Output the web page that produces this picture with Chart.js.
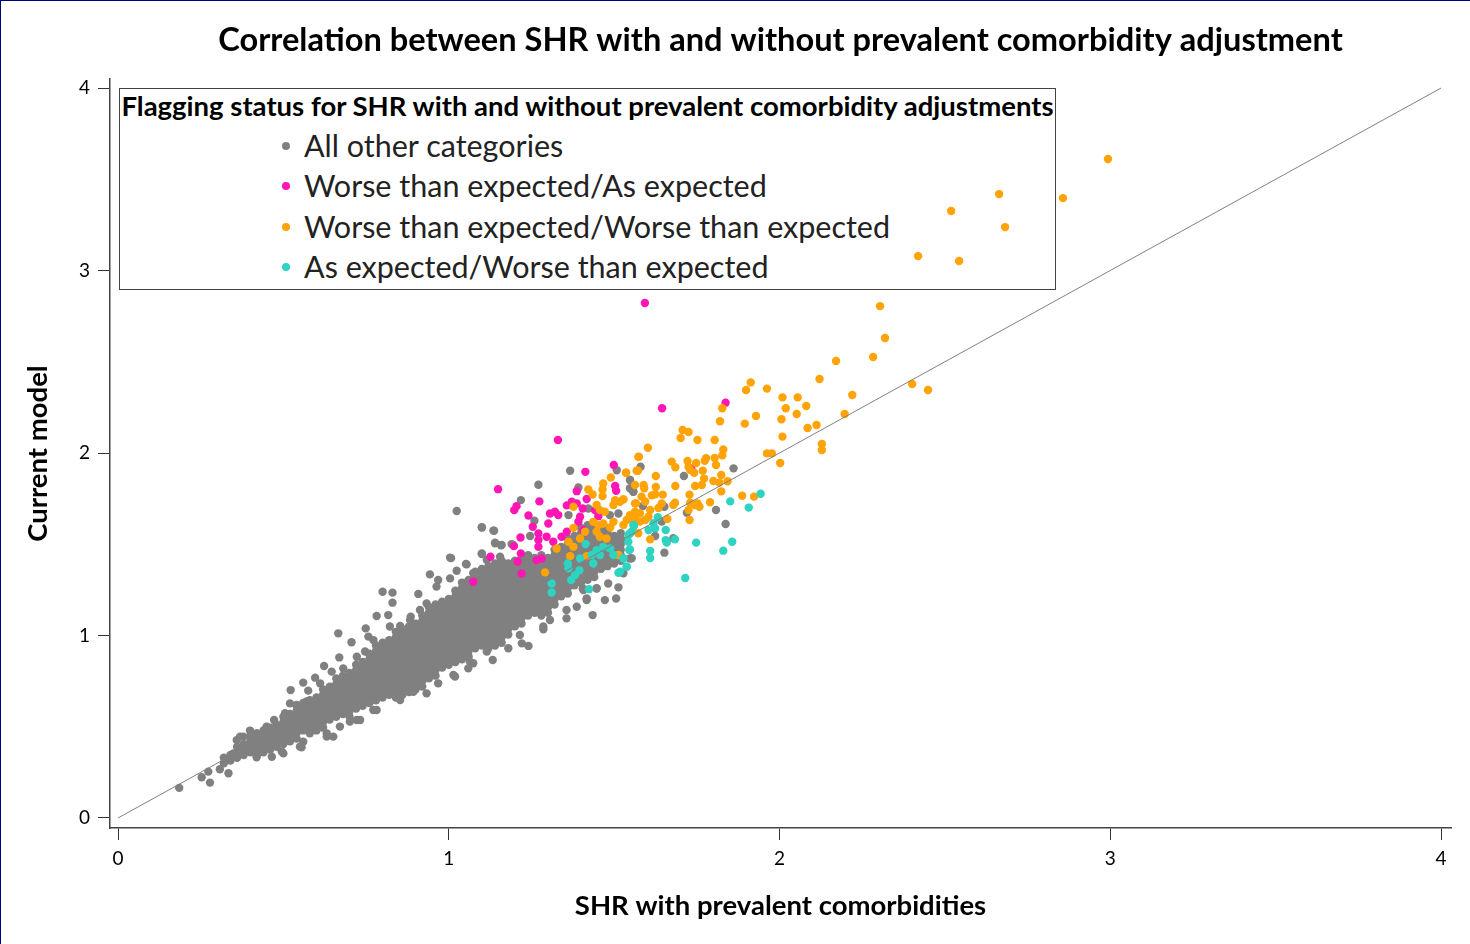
<!DOCTYPE html>
<html>
<head>
<meta charset="utf-8">
<script src="https://cdn.jsdelivr.net/npm/chart.js@4"></script>
<style>
  html, body { margin: 0; padding: 0; background: #fff; }
  #wrap { position: relative; width: 1470px; height: 944px; overflow: hidden; font-family: Lato, sans-serif; }
  #wrap canvas { position: absolute; left: 0; top: 0; }
  #edgeLeft { position: absolute; left: 0; top: 0; width: 1px; height: 944px; background: #00007f; }
  #edgeTop { position: absolute; left: 0; top: 0; width: 1470px; height: 1px; background: #00007f; }
  #legend { position: absolute; left: 119px; top: 88px; width: 935px; height: 200px; border: 1px solid #444; background: #fff; }
  #legend .head { position: absolute; left: 0; width: 100%; top: 1px; text-align: center; font-weight: 700; font-size: 27.5px; line-height: 32px; color: #000; white-space: nowrap; }
  #legend .row { position: absolute; left: 184px; height: 40px; line-height: 40px; font-size: 30.5px; color: #222; white-space: nowrap; }
  #legend .dot { position: absolute; left: -22px; top: 17px; width: 8px; height: 8px; border-radius: 50%; }
  #legend .row span.txt { position: absolute; left: 0; top: 0; }
</style>
</head>
<body>
<div id="wrap">
  <div id="legend"></div>
  <canvas id="myChart" width="1470" height="944"></canvas>
  <div id="edgeLeft"></div>
  <div id="edgeTop"></div>
</div>
<script>
const titleText = "Correlation between SHR with and without prevalent comorbidity adjustment";
const xTitle = "SHR with prevalent comorbidities";
const yTitle = "Current model";
const legendTitle = "Flagging status for SHR with and without prevalent comorbidity adjustments";
const seriesNames = ["All other categories", "Worse than expected/As expected", "Worse than expected/Worse than expected", "As expected/Worse than expected"];
const seriesColors = ["#808080", "#ff16b4", "#ffa306", "#2ed3c1"];
const tickValues = [0, 1, 2, 3, 4];
const refLine = [0, 4];

// the middle of the grey cloud is solid in the picture, single dots can't be read there,
// so these columns just follow its outline as read off the zoomed crops
const coreX = [.32,.34,.36,.38,.40,.42,.44,.46,.48,.50,.52,.54,.56,.58,.60,.62,.64,.66,.68,.70,.72,.74,.76,.78,.80,.82,.84,.86,.88,.90,.92,.94,.96,.98,1.00,1.02,1.04,1.06,1.08,1.10,1.12,1.14,1.16,1.18,1.20,1.22,1.24,1.26,1.28,1.30,1.32,1.34,1.36,1.38,1.40,1.42,1.44,1.46,1.48,1.50,1.52];
const coreY = [
  [.30,.33],
  [.315,.345],
  [.33,.36,.39],
  [.345,.375,.405],
  [.36,.39,.42,.45],
  [.345,.375,.405,.435,.465],
  [.36,.39,.42,.45,.48],
  [.375,.405,.435,.465,.495],
  [.39,.42,.45,.48,.51],
  [.405,.435,.465,.495,.525,.555],
  [.42,.45,.48,.51,.54,.57],
  [.435,.465,.495,.525,.555,.585,.615],
  [.48,.51,.54,.57,.60,.63],
  [.495,.525,.555,.585,.615,.645],
  [.48,.51,.54,.57,.60,.63,.66],
  [.495,.525,.555,.585,.615,.645,.675,.705],
  [.54,.57,.60,.63,.66,.69,.72],
  [.555,.585,.615,.645,.675,.705,.735,.765],
  [.57,.60,.63,.66,.69,.72,.75,.78],
  [.555,.585,.615,.645,.675,.705,.735,.765,.795],
  [.60,.63,.66,.69,.72,.75,.78,.81,.84],
  [.615,.645,.675,.705,.735,.765,.795,.825,.855],
  [.63,.66,.69,.72,.75,.78,.81,.84,.87,.90],
  [.645,.675,.705,.735,.765,.795,.825,.855,.885,.915,.945],
  [.66,.69,.72,.75,.78,.81,.84,.87,.90,.93,.96],
  [.675,.705,.735,.765,.795,.825,.855,.885,.915,.945,.975],
  [.66,.69,.72,.75,.78,.81,.84,.87,.90,.93,.96,.99,1.02],
  [.675,.705,.735,.765,.795,.825,.855,.885,.915,.945,.975,1.005,1.035],
  [.69,.72,.75,.78,.81,.84,.87,.90,.93,.96,.99,1.02,1.05],
  [.705,.735,.765,.795,.825,.855,.885,.915,.945,.975,1.005,1.035,1.065],
  [.72,.75,.78,.81,.84,.87,.90,.93,.96,.99,1.02,1.05,1.08,1.11],
  [.765,.795,.825,.855,.885,.915,.945,.975,1.005,1.035,1.065,1.095,1.125,1.155],
  [.78,.81,.84,.87,.90,.93,.96,.99,1.02,1.05,1.08,1.11,1.14,1.17],
  [.825,.855,.885,.915,.945,.975,1.005,1.035,1.065,1.095,1.125,1.155,1.185],
  [.84,.87,.90,.93,.96,.99,1.02,1.05,1.08,1.11,1.14,1.17,1.20],
  [.855,.885,.915,.945,.975,1.005,1.035,1.065,1.095,1.125,1.155,1.185,1.215,1.245],
  [.87,.90,.93,.96,.99,1.02,1.05,1.08,1.11,1.14,1.17,1.20,1.23,1.26,1.29],
  [.885,.915,.945,.975,1.005,1.035,1.065,1.095,1.125,1.155,1.185,1.215,1.245,1.275,1.305],
  [.93,.96,.99,1.02,1.05,1.08,1.11,1.14,1.17,1.20,1.23,1.26,1.29,1.32,1.35],
  [.945,.975,1.005,1.035,1.065,1.095,1.125,1.155,1.185,1.215,1.245,1.275,1.305,1.335,1.365],
  [.93,.96,.99,1.02,1.05,1.08,1.11,1.14,1.17,1.20,1.23,1.26,1.29,1.32,1.35,1.38],
  [.945,.975,1.005,1.035,1.065,1.095,1.125,1.155,1.185,1.215,1.245,1.275,1.305,1.335,1.365,1.395],
  [.96,.99,1.02,1.05,1.08,1.11,1.14,1.17,1.20,1.23,1.26,1.29,1.32,1.35,1.38,1.41],
  [1.005,1.035,1.065,1.095,1.125,1.155,1.185,1.215,1.245,1.275,1.305,1.335,1.365,1.395],
  [1.05,1.08,1.11,1.14,1.17,1.20,1.23,1.26,1.29,1.32,1.35,1.38,1.41],
  [1.065,1.095,1.125,1.155,1.185,1.215,1.245,1.275,1.305,1.335,1.365,1.395,1.425],
  [1.11,1.14,1.17,1.20,1.23,1.26,1.29,1.32,1.35,1.38,1.41,1.44],
  [1.125,1.155,1.185,1.215,1.245,1.275,1.305,1.335,1.365,1.395,1.425],
  [1.11,1.14,1.17,1.20,1.23,1.26,1.29,1.32,1.35,1.38,1.41,1.44],
  [1.125,1.155,1.185,1.215,1.245,1.275,1.305,1.335,1.365,1.395,1.425],
  [1.17,1.20,1.23,1.26,1.29,1.32,1.35,1.38,1.41,1.44,1.47],
  [1.215,1.245,1.275,1.305,1.335,1.365,1.395,1.425,1.455,1.485],
  [1.23,1.26,1.29,1.32,1.35,1.38,1.41,1.44,1.47,1.50,1.53],
  [1.275,1.305,1.335,1.365,1.395,1.425,1.455,1.485,1.515,1.545],
  [1.29,1.32,1.35,1.38,1.41,1.44,1.47,1.50,1.53,1.56,1.59],
  [1.305,1.335,1.365,1.395,1.425,1.455,1.485,1.515,1.545,1.575,1.605],
  [1.32,1.35,1.38,1.41,1.44,1.47,1.50,1.53,1.56,1.59],
  [1.365,1.395,1.425,1.455,1.485,1.515,1.545,1.575],
  [1.38,1.41,1.44,1.47,1.50,1.53,1.56,1.59],
  [1.395,1.425,1.455,1.485,1.515,1.545],
  [1.41,1.44,1.47,1.50,1.53,1.56]
];

// single grey dots around the outline
const grayX = [.185,.278,.253,.273,.308,.334,.349,.359,.379,.399,.419,.465,.500,.555,.472,.505,.520,.522,.560,.575,.596,.623,.669,.706,.666,.749,.757,.782,.817,.800,.830,.830,.908,.885,.943,.968,1.004,1.024,1.052,1.100,1.135,1.140,1.160,1.100,1.195,.933,1.019,.968,1.059,1.133,1.074,1.180,1.221,1.241,1.286,1.356,1.435,1.417,1.447,1.405,.782,.732,.701,.651,.631,.560,1.024,1.100,1.137,1.218,1.271,1.367,1.259,1.140,1.158,1.190,1.007,1.054,1.100,1.246,1.362,1.392,1.508,1.548,1.558,1.422,1.487,1.513,1.523,1.548,1.482,1.513,1.447,1.407,1.506,1.472,1.417,1.861,1.711,1.808,1.837,1.652,1.720,1.679,1.624,1.644,1.580,1.548,1.548,1.558,1.587,1.652,1.553,1.528,
  .449,.540,.570,.611,.646,.681,.722,.747,.772,.822,.853,.883,.913,.933,.963,1.004,1.074,1.115,1.155,.495,.550,.580,.631,.671,.722,.772,.853,.893,1.014,1.064,1.115,1.215,1.286,1.306,1.356,1.387,.369,.399];
const grayY = [.165,.194,.223,.254,.267,.245,.354,.427,.446,.479,.333,.336,.354,.387,.537,.574,.628,.701,.742,.698,.769,.833,.880,.963,1.012,1.039,.994,1.107,1.112,1.240,1.235,1.180,1.228,1.103,1.335,1.304,1.427,1.355,1.392,1.593,1.575,1.509,1.496,1.450,1.496,.683,.775,.738,.820,.866,.848,.930,.957,.943,1.034,1.094,1.112,1.195,1.259,1.259,.592,.537,.528,.446,.446,.418,1.682,1.592,1.574,1.742,1.826,1.903,1.629,1.505,1.495,1.501,1.424,1.390,1.446,1.545,1.660,1.811,1.906,1.852,1.788,1.696,1.660,1.669,1.523,1.422,1.285,1.264,1.258,1.249,1.203,1.194,1.203,1.916,1.874,1.688,1.611,1.454,1.673,1.533,1.545,1.624,1.925,1.852,1.807,1.788,1.710,1.706,1.423,1.341,
  .500,.619,.638,.738,.802,.820,.884,.912,.975,1.049,1.052,1.085,1.140,1.176,1.268,1.313,1.341,1.414,1.432,.364,.391,.464,.464,.501,.537,.592,.647,.692,.784,.857,.912,1.003,1.049,1.085,1.140,1.158,.446,.446];

const pinkX = [1.593,1.645,1.837,1.733,1.330,1.149,1.413,1.499,1.387,1.274,1.205,1.198,1.241,1.503,1.506,1.417,1.357,1.372,1.387,1.405,1.321,1.306,1.331,1.301,1.254,1.397,1.392,1.442,1.452,1.271,1.271,1.296,1.316,1.341,1.357,1.217,1.197,1.271,1.218,1.208,1.281,1.266,1.220,1.126,1.074,1.407];
const pinkY = [2.822,2.245,2.276,1.916,2.071,1.802,1.897,1.934,1.791,1.735,1.709,1.687,1.658,1.819,1.793,1.748,1.713,1.733,1.724,1.696,1.678,1.669,1.660,1.614,1.596,1.651,1.623,1.687,1.654,1.559,1.523,1.541,1.514,1.541,1.569,1.537,1.490,1.486,1.450,1.406,1.422,1.413,1.340,1.432,1.295,1.578];

const orangeX = [2.993,2.857,2.664,2.519,2.682,2.419,2.543,2.304,2.319,2.283,2.171,2.401,2.449,1.913,1.899,1.962,2.121,2.220,2.009,2.055,2.019,2.081,2.052,1.929,1.827,1.820,2.006,1.895,2.197,2.112,2.085,2.009,2.128,2.128,1.962,1.977,2.002,1.707,1.725,1.701,1.752,1.804,1.602,1.575,1.572,1.536,1.830,1.827,1.804,1.778,1.774,1.748,1.722,1.674,1.685,1.808,1.725,1.730,1.742,1.768,1.824,1.772,1.800,1.818,1.843,1.765,1.745,1.824,1.626,1.626,1.685,1.589,1.563,1.591,1.647,1.614,1.624,1.583,1.594,1.528,1.566,1.728,1.684,1.679,1.644,1.634,1.609,1.730,1.752,1.758,1.745,1.725,1.790,1.887,1.923,1.728,1.661,1.609,1.563,1.548,1.578,1.604,1.594,1.563,1.538,1.528,1.578,1.573,1.326,1.291,1.367,1.377,1.377,1.362,1.377,1.397,1.412,1.447,1.457,1.472,1.422,1.435,1.467,1.465,1.465,1.490,1.536,1.573,1.568,1.498,1.503,1.528,1.518,1.563,1.568,1.553,1.498,1.488,1.437,1.452,1.467,1.447,1.457,1.477,1.417,1.513];
const orangeY = [3.611,3.397,3.419,3.326,3.238,3.079,3.052,2.805,2.630,2.526,2.504,2.378,2.345,2.387,2.345,2.353,2.406,2.318,2.305,2.305,2.245,2.258,2.214,2.203,2.245,2.174,2.185,2.161,2.214,2.154,2.137,2.090,2.050,2.017,1.998,1.998,1.945,2.126,2.115,2.082,2.071,2.071,2.029,1.980,1.903,1.892,2.020,1.987,1.973,1.971,1.958,1.945,1.956,1.953,1.922,1.934,1.925,1.907,1.892,1.903,1.880,1.860,1.847,1.838,1.845,1.825,1.819,1.790,1.874,1.814,1.819,1.825,1.825,1.807,1.772,1.768,1.774,1.761,1.734,1.746,1.724,1.772,1.728,1.715,1.724,1.699,1.688,1.728,1.724,1.706,1.715,1.688,1.730,1.766,1.761,1.633,1.639,1.527,1.679,1.660,1.670,1.651,1.633,1.642,1.633,1.606,1.624,1.560,1.477,1.346,1.435,1.590,1.706,1.514,1.486,1.532,1.569,1.715,1.687,1.678,1.800,1.773,1.833,1.800,1.764,1.866,1.892,1.979,1.903,1.715,1.742,1.746,1.733,1.724,1.669,1.642,1.623,1.592,1.623,1.605,1.614,1.569,1.541,1.532,1.435,1.441];

const tealX = [1.943,1.851,1.907,1.857,1.830,1.748,1.715,1.656,1.684,1.656,1.659,1.632,1.609,1.609,1.619,1.624,1.604,1.558,1.553,1.543,1.546,1.528,1.538,1.518,1.560,1.548,1.543,1.548,1.528,1.538,1.513,1.414,1.467,1.447,1.432,1.488,1.498,1.457,1.437,1.397,1.360,1.362,1.395,1.382,1.370,1.311,1.311,1.424];
const tealY = [1.777,1.735,1.701,1.514,1.465,1.509,1.315,1.578,1.527,1.523,1.509,1.648,1.463,1.425,1.615,1.587,1.578,1.606,1.569,1.551,1.469,1.423,1.377,1.350,1.600,1.559,1.514,1.472,1.422,1.377,1.344,1.501,1.486,1.468,1.441,1.477,1.441,1.441,1.395,1.422,1.395,1.368,1.358,1.331,1.304,1.285,1.236,1.254];

const toPoints = (xs, ys) => xs.map((x, i) => ({ x: x, y: ys[i] }));

const corePoints = coreX.flatMap((x, i) => coreY[i].map((y) => ({ x: x, y: y })));
const grayPoints = corePoints.concat(toPoints(grayX, grayY));

const dotStyle = {
  pointRadius: 4.2,
  pointHoverRadius: 4.2,
  pointBorderWidth: 0,
  showLine: false,
};

const data = {
  datasets: [
    { label: seriesNames[0], data: grayPoints, backgroundColor: seriesColors[0], order: 4, ...dotStyle },
    { label: seriesNames[1], data: toPoints(pinkX, pinkY), backgroundColor: seriesColors[1], order: 3, ...dotStyle },
    { label: seriesNames[2], data: toPoints(orangeX, orangeY), backgroundColor: seriesColors[2], order: 2, ...dotStyle },
    { label: seriesNames[3], data: toPoints(tealX, tealY), backgroundColor: seriesColors[3], order: 1, ...dotStyle },
    {
      label: "reference",
      data: toPoints(refLine, refLine),
      showLine: true,
      borderColor: "#808080",
      borderWidth: 1,
      pointRadius: 0,
      order: 0,
    },
  ],
};

const tickFont = { family: "Lato", size: 19 };
const titleFont = { family: "Lato", size: 27.5, weight: "bold" };

const fixTicks = (scale) => {
  scale.ticks = tickValues.map((v) => ({ value: v }));
};
const noPad = (scale) => {
  scale.paddingLeft = 0;
  scale.paddingRight = 0;
  scale.paddingTop = 0;
  scale.paddingBottom = 0;
};

const config = {
  type: "scatter",
  data: data,
  options: {
    responsive: false,
    animation: false,
    layout: { padding: { left: 0, right: 19, top: 0, bottom: 0 } },
    plugins: {
      legend: { display: false },
      tooltip: { enabled: false },
      title: {
        display: true,
        text: titleText,
        fullSize: false,
        color: "#000",
        font: { family: "Lato", size: 32.6, weight: "bold" },
        padding: { top: 21, bottom: 19 },
      },
    },
    scales: {
      x: {
        type: "linear",
        min: -0.0242,
        max: 4.0302,
        afterBuildTicks: fixTicks,
        afterFit: (scale) => {
          scale.height = 116;
          noPad(scale);
        },
        grid: { drawOnChartArea: false, color: "#333", tickLength: 12, lineWidth: 1 },
        border: { color: "#444", width: 1.5 },
        ticks: { font: tickFont, color: "#000", padding: 7, maxRotation: 0, callback: (v) => v },
        title: { display: true, text: xTitle, color: "#000", font: titleFont, padding: { top: 0, bottom: 21 } },
      },
      y: {
        type: "linear",
        min: -0.0548,
        max: 4.049,
        afterBuildTicks: fixTicks,
        afterFit: (scale) => {
          scale.width = 110;
          noPad(scale);
        },
        grid: { drawOnChartArea: false, color: "#333", tickLength: 12, lineWidth: 1 },
        border: { color: "#444", width: 1.5 },
        ticks: { font: tickFont, color: "#000", padding: 8, callback: (v) => v },
        title: { display: true, text: yTitle, color: "#000", font: titleFont, padding: { top: 22, bottom: 0 } },
      },
    },
  },
};

const ctx = document.getElementById("myChart");
const myChart = new Chart(ctx.getContext("2d"), config);

// legend box sits under the canvas, a few orange dots are drawn over it in the picture
const legendBox = document.getElementById("legend");
const head = document.createElement("div");
head.className = "head";
head.textContent = legendTitle;
legendBox.appendChild(head);
seriesNames.forEach((name, i) => {
  const row = document.createElement("div");
  row.className = "row";
  row.style.top = 36 + i * 40.4 + "px";
  const dot = document.createElement("span");
  dot.className = "dot";
  dot.style.background = seriesColors[i];
  const txt = document.createElement("span");
  txt.className = "txt";
  txt.textContent = name;
  row.appendChild(dot);
  row.appendChild(txt);
  legendBox.appendChild(row);
});
</script>
</body>
</html>
